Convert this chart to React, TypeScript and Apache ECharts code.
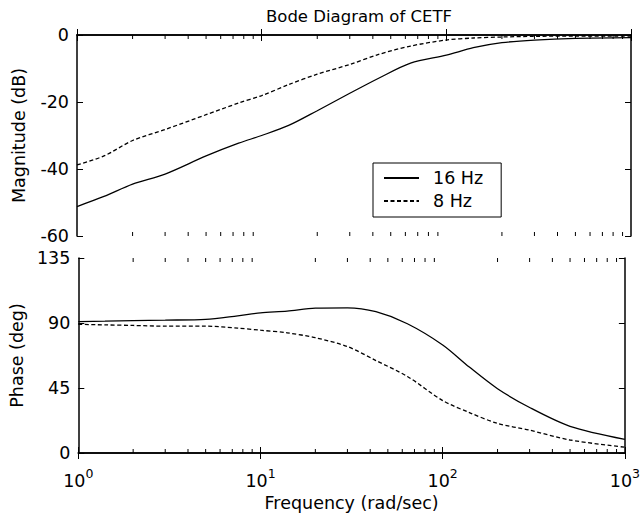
import React, { useEffect, useRef } from "react";
import * as echarts from "echarts";

// Frequencies (rad/sec) at which the curves were read
const freq = [1, 1.4, 2, 3, 5, 7.5, 10, 14, 20, 30, 43, 64, 100, 140, 200, 300, 500, 1000];
// Magnitude (dB)
const mag16 = [-51.2, -48.2, -44.5, -41.5, -36.1, -32.3, -30.0, -27.0, -22.6, -17.4, -12.9, -8.4, -6.0, -3.8, -2.3, -1.5, -1.0, -0.8];
const mag8 = [-38.8, -36.1, -31.5, -28.2, -23.8, -20.3, -18.1, -14.8, -11.7, -8.8, -5.8, -3.3, -1.5, -0.9, -0.6, -0.4, -0.3, -0.3];
// Phase (deg)
const phase16 = [91, 91.3, 91.7, 92, 92.5, 95, 97, 98.2, 100.3, 100.5, 97.8, 89.5, 74.8, 59.5, 44.5, 31.5, 18.5, 9.5];
const phase8 = [89.1, 88.7, 88.3, 87.8, 87.8, 86.5, 85, 83.2, 79.8, 73.7, 64, 53, 36.3, 28, 20.5, 15.8, 9, 4];

const seriesNames = ["16 Hz", "8 Hz"];
const minorTickValues = [2, 3, 4, 5, 6, 7, 8, 9, 20, 30, 40, 50, 60, 70, 80, 90, 200, 300, 400, 500, 600, 700, 800, 900];
const magRange = { min: -60, max: 0, interval: 20 };
const phaseRange = { min: 0, max: 135, interval: 45 };
const freqRange = { min: 1, max: 1000 };

const FONT = "DejaVu Sans";
const FS = 17.5;

function App() {
  const ref = useRef<HTMLDivElement>(null);
  useEffect(() => {
    if (!ref.current) return;
    const chart = echarts.init(ref.current, null, { renderer: "svg" });

    const axisLine = { show: true, lineStyle: { color: "#000", width: 1.5 } };
    const axisTick = { show: true, inside: true, length: 6, lineStyle: { color: "#000", width: 1 } };

    const xAx = (grid: number, pos: "top" | "bottom", labels: boolean) => ({
      type: "log",
      logBase: 10,
      gridIndex: grid,
      position: pos,
      min: freqRange.min,
      max: freqRange.max,
      axisLine,
      axisTick,
      minorTick: { show: false },
      splitLine: { show: false },
      axisLabel: labels
        ? {
            show: true,
            margin: 14,
            color: "#000",
            fontFamily: FONT,
            fontSize: FS,
            formatter: (v: number) => "10{s|" + Math.round(Math.log10(v)) + "}",
            rich: {
              s: { fontSize: 12.5, fontFamily: FONT, color: "#000", padding: [0, 0, 14, 0] },
            },
          }
        : { show: false },
      ...(labels
        ? {
            name: "Frequency (rad/sec)",
            nameLocation: "middle",
            nameGap: 41,
            nameTextStyle: { color: "#000", fontFamily: FONT, fontSize: FS },
          }
        : {}),
    });

    const yAx = (grid: number, pos: "left" | "right", range: any, name: string | null) => ({
      type: "value",
      gridIndex: grid,
      position: pos,
      min: range.min,
      max: range.max,
      interval: range.interval,
      axisLine,
      axisTick,
      splitLine: { show: false },
      axisLabel: name
        ? { show: true, margin: 8, color: "#000", fontFamily: FONT, fontSize: FS }
        : { show: false },
      ...(name
        ? {
            name,
            nameLocation: "middle",
            nameGap: 49,
            nameTextStyle: { color: "#000", fontFamily: FONT, fontSize: FS },
          }
        : {}),
    });

    // minor ticks of the log frequency axis, on the bottom and top edges of a grid
    const minorTicks = (axisIdx: number) => ({
      type: "custom",
      xAxisIndex: axisIdx,
      yAxisIndex: axisIdx,
      silent: true,
      clip: false,
      data: minorTickValues.map((v) => [v]),
      encode: { x: 0 },
      renderItem: (params: any, api: any) => {
        const cs = params.coordSys;
        const x = api.coord([api.value(0), 0])[0];
        const top = cs.y;
        const bottom = cs.y + cs.height;
        return {
          type: "group",
          children: [
            { type: "line", shape: { x1: x, y1: bottom, x2: x, y2: bottom - 4 }, style: { stroke: "#000", lineWidth: 1 } },
            { type: "line", shape: { x1: x, y1: top, x2: x, y2: top + 4 }, style: { stroke: "#000", lineWidth: 1 } },
          ],
        };
      },
    });

    const curve = (name: string, axisIdx: number, ys: number[], dashed: boolean) => ({
      type: "line",
      name,
      xAxisIndex: axisIdx,
      yAxisIndex: axisIdx,
      data: freq.map((f, i) => [f, ys[i]]),
      symbol: "none",
      smooth: 0.3,
      lineStyle: { color: "#000", width: 1.3, type: dashed ? [4, 2.5] : "solid" },
      itemStyle: { color: "#000" },
    });

    chart.setOption({
      animation: false,
      backgroundColor: "#fff",
      title: {
        text: "Bode Diagram of CETF",
        left: 354,
        top: 3,
        textAlign: "center",
        textStyle: { color: "#000", fontFamily: FONT, fontSize: 16.5, fontWeight: "normal" },
      },
      legend: {
        data: seriesNames,
        orient: "vertical",
        left: 373,
        top: 163,
        padding: [6, 18, 7, 10],
        itemWidth: 35,
        itemHeight: 14,
        itemGap: 5,
        borderColor: "#000",
        borderWidth: 1,
        borderRadius: 0,
        backgroundColor: "#fff",
        itemStyle: { opacity: 0 },
        textStyle: { color: "#000", fontFamily: FONT, fontSize: FS, padding: [0, 0, 0, 9] },
      },
      grid: [
        { left: 77, top: 35, width: 554, height: 201 },
        { left: 77, top: 258, width: 554, height: 195 },
      ],
      xAxis: [xAx(0, "bottom", false), xAx(0, "top", false), xAx(1, "bottom", true), xAx(1, "top", false)],
      yAxis: [
        yAx(0, "left", magRange, "Magnitude (dB)"),
        yAx(0, "right", magRange, null),
        yAx(1, "left", phaseRange, "Phase (deg)"),
        yAx(1, "right", phaseRange, null),
      ],
      series: [
        curve(seriesNames[0], 0, mag16, false),
        curve(seriesNames[1], 0, mag8, true),
        curve(seriesNames[0], 2, phase16, false),
        curve(seriesNames[1], 2, phase8, true),
        minorTicks(0),
        minorTicks(2),
      ],
    });
    return () => chart.dispose();
  }, []);
  return (
    <div
      ref={ref}
      style={{ position: "absolute", left: 0, top: 0, width: 643, height: 520, background: "#fff" }}
    />
  );
}

export default App;
